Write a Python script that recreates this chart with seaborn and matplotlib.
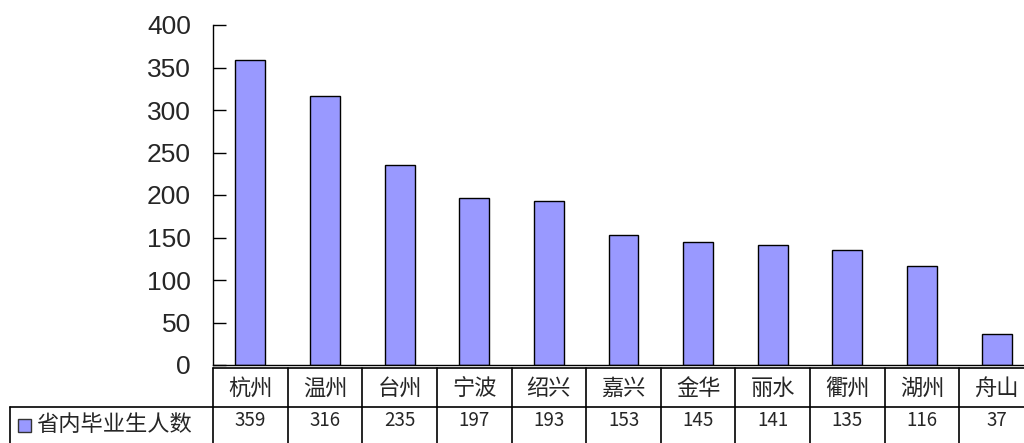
import matplotlib
matplotlib.use("Agg")
import matplotlib.pyplot as plt
import matplotlib.transforms as mtransforms
from matplotlib.patches import Rectangle
import seaborn as sns
import pandas as pd

# data
cities = ["杭州", "温州", "台州", "宁波", "绍兴", "嘉兴", "金华", "丽水", "衢州", "湖州", "舟山"]
graduates = [359, 316, 235, 197, 193, 153, 145, 141, 135, 116, 37]
series_name = "省内毕业生人数"
y_ticks = [0, 50, 100, 150, 200, 250, 300, 350, 400]

bar_color = "#9999FF"

sns.set_style("white")
plt.rcParams["font.family"] = ["Noto Sans CJK SC", "DejaVu Sans"]

df = pd.DataFrame({"city": cities, "count": graduates})

fig = plt.figure(figsize=(10.24, 4.43), dpi=100)
W, H = 1024, 443

# main plot area, in pixel terms: left 213, axis 0 at y=365, 400 at y=25
ax = fig.add_axes([213 / W, (H - 365) / H, 821 / W, 340 / H])
sns.barplot(data=df, x="city", y="count", color=bar_color, edgecolor="black",
            linewidth=1, width=0.4, saturation=1, ax=ax)
ax.set_xlim(-0.5, len(cities) - 0.5)
ax.set_ylim(0, 400)
ax.set_yticks(y_ticks)
ax.set_yticklabels([str(t) for t in y_ticks], fontsize=19, family="Liberation Sans")
ax.tick_params(axis="y", left=True, direction="in", length=9, width=1,
               color="black", pad=16)
ax.tick_params(axis="x", bottom=False, labelbottom=False)
ax.set_xlabel("")
ax.set_ylabel("")
for side in ["top", "right"]:
    ax.spines[side].set_visible(False)
for side in ["left", "bottom"]:
    ax.spines[side].set_color("black")
    ax.spines[side].set_linewidth(1)

# data table below the plot: header row 368-407 px, value row 407-446 px
tax = fig.add_axes([213 / W, (H - 446) / H, 821 / W, 78 / H], sharex=ax)
tax.set_ylim(0, 2)
tax.axis("off")
n = len(cities)
lw = 1.2
tax.plot([-0.5, n - 0.5], [2, 2], color="black", lw=lw, clip_on=False)
for i in range(n + 1):
    tax.plot([i - 0.5, i - 0.5], [0, 2], color="black", lw=lw, clip_on=False)

# row separator running into the legend cell on the left
blend = mtransforms.blended_transform_factory(fig.transFigure, tax.transData)
tax.plot([10 / W, 1.02], [1, 1], color="black", lw=lw, transform=blend, clip_on=False)
tax.plot([10 / W, 10 / W], [0, 1], color="black", lw=lw, transform=blend, clip_on=False)

for i, (c, v) in enumerate(zip(cities, graduates)):
    tax.text(i, 1.47, c, ha="center", va="center", fontsize=16, clip_on=False)
    tax.text(i, 0.66, str(v), ha="center", va="center", fontsize=13.5, clip_on=False)

# legend key inside the table
tax.add_patch(Rectangle((18 / W, 0.35), 13 / W, 0.33, transform=blend,
                        facecolor=bar_color, edgecolor="#333333", lw=1, clip_on=False))
tax.text(36 / W, 0.55, series_name, transform=blend, ha="left", va="center",
         fontsize=16, clip_on=False)

fig.savefig("out.png", dpi=100)
